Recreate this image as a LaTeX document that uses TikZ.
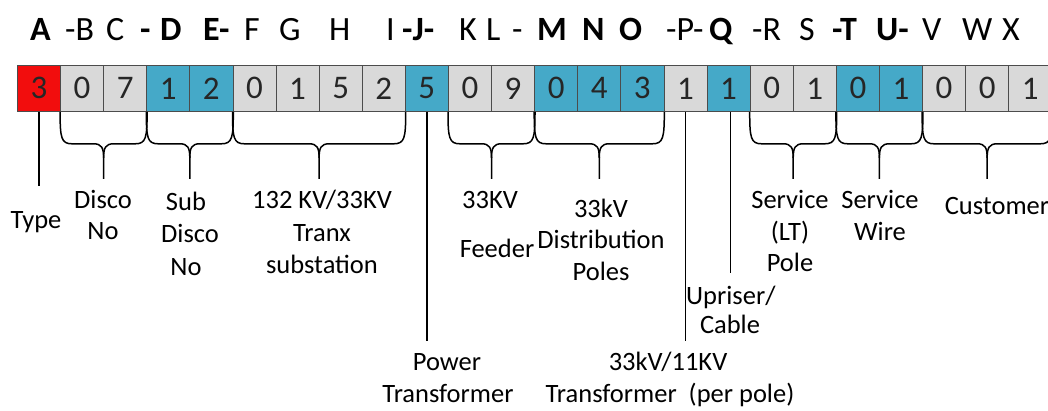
\documentclass[tikz,border=0pt]{standalone}
\usepackage{fontspec}
\setmainfont{Carlito}
\usetikzlibrary{calc}
\definecolor{cred}{HTML}{F20D0D}
\definecolor{cgrey}{HTML}{D9D9D9}
\definecolor{cteal}{HTML}{45A9C8}
\newcommand\cbrace[2]{%
  \path (#1.south west) coordinate (bl) (#2.south east) coordinate (br) ($(bl)!0.5!(br)$) coordinate (bm);
  \draw[ln] (bl) .. controls +(0,26) and +(-11,0) .. ($(bl)+(12,32)$) -- ($(bm)+(-10,32)$)
     .. controls +(8,0) and +(0,-10) .. ($(bm)+(0,46)$) -- ($(bm)+(0,67)$);
  \draw[ln] ($(bm)+(0,46)$) .. controls +(0,-10) and +(-8,0) .. ($(bm)+(10,32)$) -- ($(br)+(-12,32)$)
     .. controls +(11,0) and +(0,26) .. (br);
}
\begin{document}
\begin{tikzpicture}[x=1pt,y=-1pt,
  cellbox/.style={draw=black!70, line width=0.8pt, minimum width=43.1pt, minimum height=46pt,
    inner sep=0pt, font=\fontsize{33}{33}\selectfont, text=black!85, anchor=north west},
  hdr/.style={anchor=base west, font=\fontsize{34}{34}\selectfont, inner sep=0pt},
  hdrb/.style={anchor=base west, font=\fontsize{34}{34}\selectfont\bfseries, inner sep=0pt},
  lbl/.style={font=\fontsize{26.5}{26.5}\selectfont, inner sep=0pt, anchor=base},
  ln/.style={line width=1.5pt, black}
]
\useasboundingbox (0,0) rectangle (1048,410);
\clip (0,0) rectangle (1048,410);
\fill[white] (0,0) rectangle (1048,410);

% header letters
\node[hdrb] (hA) at (30,40) {A};
\node[hdr] (hB) at (65,40) {-B};
\node[hdr] (hC) at (106,40) {C};
\node[hdrb] (hd1) at (140,40) {-};
\node[hdrb] (hD) at (160,40) {D};
\node[hdrb] (hE) at (203,40) {E-};
\node[hdr] (hF) at (244,40) {F};
\node[hdr] (hG) at (279,40) {G};
\node[hdr] (hH) at (329,40) {H};
\node[hdr] (hI) at (386,40) {I};
\node[hdrb] (hJ) at (402,40) {-J-};
\node[hdr] (hK) at (459,40) {K};
\node[hdr] (hL) at (486,40) {L};
\node[hdr] (hd2) at (512,40) {-};
\node[hdrb] (hM) at (537,40) {M};
\node[hdrb] (hN) at (582,40) {N};
\node[hdrb] (hO) at (619,40) {O};
\node[hdr] (hP) at (666,40) {-P-};
\node[hdrb] (hQ) at (709,40) {Q};
\node[hdr] (hR) at (752,40) {-R};
\node[hdr] (hS) at (799,40) {S};
\node[hdrb] (hT) at (832,40) {-T};
\node[hdrb] (hU) at (876,40) {U-};
\node[hdr] (hV) at (922,40) {V};
\node[hdr] (hW) at (962,40) {W};
\node[hdr] (hX) at (1002,40) {X};

% cells
\foreach \d/\c [count=\i] in {3/cred,0/cgrey,7/cgrey,1/cteal,2/cteal,0/cgrey,1/cgrey,5/cgrey,2/cgrey,5/cteal,
  0/cgrey,9/cgrey,0/cteal,4/cteal,3/cteal,1/cgrey,1/cteal,0/cgrey,1/cgrey,0/cteal,1/cteal,0/cgrey,0/cgrey,1/cgrey}
  \node[cellbox, fill=\c] (c\i) at ({17+(\i-1)*43.1},65) {\d};

% braces
\cbrace{c2}{c3}
\cbrace{c4}{c5}
\cbrace{c6}{c9}
\cbrace{c11}{c12}
\cbrace{c13}{c15}
\cbrace{c18}{c19}
\cbrace{c20}{c21}
\cbrace{c22}{c24}

% pointer lines
\draw[ln] (c1.south) -- ++(0,74);
\draw[ln] (c10.south) -- ++(0,229);
\draw[ln] (c16.south) -- ++(0,229);
\draw[ln] ($(c17.south)+(2,0)$) -- ++(0,161);

% labels
\node[lbl] (tType) at (36,228) {Type};
\node[lbl] (tDa) at (103,208) {Disco};
\node[lbl] (tDb) at (103,239) {No};
\node[lbl] (tSa) at (186,210) {Sub};
\node[lbl] (tSb) at (190,242) {Disco};
\node[lbl] (tSc) at (186,275) {No};
\node[lbl] (tTa) at (322,208) {132 KV/33KV};
\node[lbl] (tTb) at (322,241) {Tranx};
\node[lbl] (tTc) at (322,273) {substation};
\node[lbl] (tFa) at (490,208) {33KV};
\node[lbl] (tFb) at (497,257) {Feeder};
\node[lbl] (tPa) at (601,217) {33kV};
\node[lbl] (tPb) at (601,248) {Distribution};
\node[lbl] (tPc) at (601,280) {Poles};
\node[lbl] (tLa) at (790,208) {Service};
\node[lbl] (tLb) at (790,240) {(LT)};
\node[lbl] (tLc) at (790,271) {Pole};
\node[lbl] (tWa) at (880,208) {Service};
\node[lbl] (tWb) at (880,240) {Wire};
\node[lbl] (tCu) at (997,214) {Customer};
\node[lbl, anchor=base west] (tUa) at (686,304) {Upriser/};
\node[lbl] (tUb) at (730,333) {Cable};
\node[lbl] (tPTa) at (447,370) {Power};
\node[lbl] (tPTb) at (448,402) {Transformer};
\node[lbl] (tXa) at (668,370) {33kV/11KV};
\node[lbl] (tXb) at (670,402) {Transformer\ \ (per pole)};
\end{tikzpicture}
\end{document}
